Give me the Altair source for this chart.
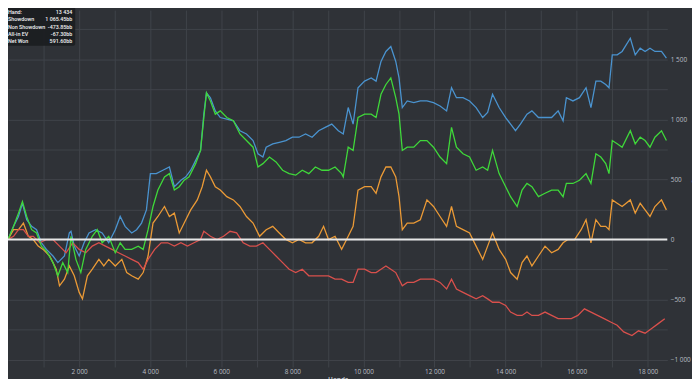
import altair as alt
import pandas as pd

# ---------------- data ----------------
showdown_hands = [0, 157, 295, 406, 526, 665, 803, 941, 1080, 1265, 1403, 1588, 1726, 1772, 1864, 2003, 2141,
                  2280, 2464, 2649, 2834, 3018, 3157, 3295, 3480, 3618, 3757, 3895, 4006, 4172, 4357, 4541, 4680,
                  4864, 5003, 5141, 5280, 5418, 5510, 5584, 5695, 5833, 5972, 6156, 6341, 6526, 6710, 6895, 7033,
                  7172, 7264, 7449, 7633, 7818, 8002, 8187, 8372, 8556, 8741, 8925, 9110, 9295, 9433, 9572, 9710,
                  9848, 10033, 10218, 10356, 10495, 10633, 10771, 10910, 11002, 11094, 11233, 11418, 11602, 11787,
                  11972, 12156, 12341, 12479, 12618, 12802, 12987, 13171, 13356, 13495, 13633, 13818, 14002, 14141,
                  14279, 14418, 14602, 14741, 14925, 15110, 15295, 15479, 15618, 15710, 15895, 16079, 16264, 16402,
                  16541, 16679, 16818, 16910, 17002, 17140, 17279, 17510, 17648, 17787, 17925, 18063, 18202, 18387,
                  18525]
showdown_bb = [0, 110, 192, 302, 165, 110, 82, -27, -82, -137, -192, -137, 55, 69, -55, -137, -27,
               55, 82, 55, -27, 82, 192, 110, 55, 82, 137, 247, 549, 549, 577, 604, 440,
               494, 522, 577, 659, 742, 1044, 1222, 1181, 1071, 1016, 1003, 989, 906, 879, 824, 714,
               687, 769, 797, 810, 824, 852, 852, 879, 852, 906, 934, 961, 906, 879, 1099, 961,
               1264, 1319, 1346, 1319, 1483, 1566, 1607, 1483, 1346, 1099, 1154, 1140, 1154, 1154,
               1140, 1112, 1071, 1264, 1181, 1181, 1154, 1099, 1016, 1058, 1209, 1099, 1016, 961,
               906, 961, 1044, 1071, 1016, 1016, 1016, 1071, 989, 1181, 1154, 1181, 1264, 1099,
               1319, 1319, 1291, 1264, 1538, 1538, 1566, 1676, 1538, 1593, 1566, 1593, 1566, 1566,
               1511]

netwon_hands = [0, 157, 295, 406, 526, 665, 803, 941, 1080, 1265, 1403, 1541, 1680, 1772, 1911, 2049, 2188,
                2372, 2511, 2649, 2834, 3018, 3157, 3295, 3480, 3664, 3803, 3941, 4080, 4218, 4403, 4541, 4680,
                4818, 4957, 5095, 5280, 5418, 5510, 5584, 5695, 5833, 5972, 6156, 6341, 6526, 6710, 6895, 7033,
                7172, 7356, 7541, 7726, 7910, 8095, 8279, 8464, 8648, 8833, 9018, 9202, 9387, 9433, 9572, 9710,
                9848, 10033, 10218, 10356, 10495, 10633, 10771, 10910, 11002, 11094, 11233, 11418, 11602, 11787,
                11972, 12156, 12341, 12479, 12618, 12802, 12987, 13171, 13356, 13495, 13633, 13818, 14002, 14141,
                14326, 14464, 14602, 14741, 14925, 15110, 15295, 15479, 15618, 15710, 15895, 16079, 16264, 16402,
                16541, 16679, 16818, 16910, 17002, 17140, 17279, 17510, 17648, 17787, 17925, 18063, 18202, 18387,
                18525]
netwon_bb = [0, 110, 220, 316, 192, 82, 55, -55, -96, -192, -302, -192, -275, 27, -165, -275, -82,
             27, 82, -27, 27, -110, -27, -82, -82, -55, -82, 82, 275, 412, 522, 549, 412,
             440, 494, 522, 632, 742, 1016, 1222, 1154, 1044, 1071, 1016, 989, 879, 824, 769, 604,
             632, 687, 646, 577, 549, 536, 577, 549, 604, 577, 577, 604, 549, 522, 769, 742,
             1016, 1044, 1044, 1016, 1209, 1291, 1346, 1181, 1044, 742, 769, 769, 824, 824,
             769, 687, 632, 934, 769, 714, 687, 577, 604, 577, 742, 549, 440, 357,
             275, 412, 467, 440, 357, 385, 412, 412, 357, 467, 467, 494, 549, 467,
             714, 687, 632, 549, 824, 797, 769, 906, 797, 852, 824, 769, 852, 906,
             824]

allin_hands = [0, 157, 295, 434, 572, 711, 849, 988, 1172, 1357, 1449, 1588, 1726, 1864, 2003, 2095, 2234,
               2372, 2557, 2695, 2834, 3018, 3203, 3341, 3480, 3664, 3803, 3941, 4080, 4218, 4403, 4541, 4680,
               4818, 5003, 5141, 5326, 5464, 5584, 5695, 5833, 5972, 6156, 6341, 6526, 6710, 6895, 7079, 7264,
               7449, 7633, 7818, 8002, 8187, 8372, 8556, 8741, 8879, 9018, 9202, 9387, 9572, 9710, 9848, 10033,
               10218, 10356, 10495, 10633, 10771, 10910, 11002, 11094, 11233, 11418, 11602, 11787, 11972, 12156,
               12341, 12479, 12618, 12802, 12987, 13171, 13356, 13495, 13633, 13818, 14002, 14141, 14326, 14464,
               14602, 14741, 14925, 15110, 15295, 15479, 15618, 15756, 15941, 16126, 16264, 16402, 16541, 16679,
               16818, 16910, 17002, 17140, 17279, 17510, 17648, 17787, 17925, 18063, 18202, 18387, 18525]
allin_bb = [0, 82, 82, 137, 27, 0, -55, -82, -137, -247, -385, -330, -220, -302, -440, -494, -302,
            -247, -165, -220, -165, -220, -165, -275, -302, -330, -275, -137, 137, 192, 275, 192, 220,
            55, 165, 247, 330, 440, 577, 522, 440, 412, 357, 330, 275, 192, 137, 27, 82,
            110, 55, 0, -27, 0, -27, -27, 27, 110, 0, 27, -82, 27, 110, 412, 440,
            440, 385, 522, 604, 604, 522, 357, 82, 137, 137, 165, 330, 275, 192,
            110, 275, 110, 82, 55, -55, -165, -55, 55, -82, -165, -275, -330, -192,
            -137, -220, -137, -55, -110, -82, -27, 0, 0, 82, 165, -27, 165, 110,
            110, 82, 330, 302, 275, 330, 220, 302, 247, 192, 275, 330, 247]

nonsd_hands = [0, 157, 295, 434, 572, 711, 895, 1080, 1265, 1449, 1634, 1818, 2003, 2188, 2372, 2557, 2741,
               2926, 3111, 3295, 3480, 3664, 3803, 3941, 4126, 4310, 4495, 4680, 4864, 5049, 5233, 5418, 5510,
               5695, 5880, 6064, 6249, 6433, 6618, 6803, 6987, 7172, 7356, 7541, 7726, 7910, 8095, 8279, 8464,
               8648, 8833, 9018, 9202, 9387, 9572, 9710, 9848, 10033, 10218, 10356, 10495, 10633, 10771, 10910,
               11094, 11233, 11418, 11602, 11787, 11972, 12156, 12341, 12479, 12618, 12802, 12987, 13171, 13356,
               13495, 13633, 13818, 14002, 14141, 14326, 14464, 14602, 14741, 14925, 15110, 15295, 15479, 15664,
               15849, 16033, 16218, 16402, 16587, 16772, 16956, 17140, 17325, 17556, 17741, 17925, 18110, 18295,
               18479]
nonsd_bb = [0, 27, 82, 82, 27, 27, -27, 0, 0, -55, -110, -27, -82, -110, -55, -27, -55,
            -82, -110, -137, -165, -192, -247, -165, -82, -27, -27, -55, -27, -55, -27, 0, 69,
            27, 0, 27, 69, 55, -27, -55, -55, -27, -82, -137, -192, -247, -275, -247, -302,
            -302, -302, -302, -330, -330, -357, -357, -247, -247, -275, -275, -247, -220, -247, -275,
            -385, -357, -357, -330, -330, -330, -357, -412, -330, -412, -440, -467, -494, -467,
            -494, -522, -522, -549, -604, -632, -632, -604, -632, -632, -604, -632, -659, -659,
            -659, -632, -577, -604, -632, -659, -687, -714, -769, -800, -760, -780, -740, -700,
            -660]

x_ticks = [1000 * i for i in range(1, 19)]
y_ticks = [250 * i for i in range(-4, 8)]

box_labels = ["Hand:", "Showdown", "Non Showdown", "All-in EV", "Net Won"]
box_values = ["13 434", "1 065.45bb", "-473.85bb", "-67.30bb", "591.60bb"]

# ---------------- chart ----------------
BG = "#2f3237"
GRID = "#40444a"
LABEL = "#b9bdc3"

x_scale = alt.Scale(domain=[0, 18550], nice=False, zero=False)
y_scale = alt.Scale(domain=[-1061, 1910], nice=False, zero=False)

x_axis = alt.Axis(
    values=x_ticks, ticks=False, domain=False, grid=True, gridColor=GRID, gridWidth=1,
    labelExpr="datum.value % 2000 == 0 ? replace(format(datum.value, ','), ',', ' ') : ''",
    labelColor=LABEL, labelFontSize=6.5, labelFont="Open Sans", labelPadding=2,
    title="Hands", titleColor=LABEL, titleFontSize=6.5, titleFont="Open Sans", titlePadding=1,
    labelOverlap=False, labelFlush=False,
)
y_axis = alt.Axis(
    orient="right", values=y_ticks, ticks=False, domain=False, grid=True, gridColor=GRID, gridWidth=1,
    labelExpr="datum.value % 500 == 0 ? replace(format(datum.value, ','), ',', ' ') : ''",
    labelColor=LABEL, labelFontSize=6.5, labelFont="Open Sans", labelPadding=3, labelAlign="left",
    title="Big Blinds", titleColor=LABEL, titleFontSize=6.5, titleFont="Open Sans", titlePadding=2,
    labelOverlap=False, labelFlush=False,
)

X = alt.X("hands:Q", scale=x_scale, axis=x_axis)
Y = alt.Y("bb:Q", scale=y_scale, axis=y_axis)


def series(h, v, color):
    return alt.Chart(pd.DataFrame({"hands": h, "bb": v})).mark_line(
        color=color, strokeWidth=1.3, clip=True
    ).encode(x=X, y=Y)


zero = alt.Chart(pd.DataFrame({"bb": [0]})).mark_rule(color="#e6e6e6", strokeWidth=2).encode(y=Y)

blue = series(showdown_hands, showdown_bb, "#4a93cf")
orange = series(allin_hands, allin_bb, "#eb9a36")
red = series(nonsd_hands, nonsd_bb, "#d9504c")
green = series(netwon_hands, netwon_bb, "#3fd83a")

box = alt.Chart(pd.DataFrame({"k": [0]})).mark_rect(
    fill="#1b1d21", opacity=0.92, cornerRadius=2
).encode(x=alt.value(-3), x2=alt.value(68), y=alt.value(-3), y2=alt.value(36))

text_df = pd.DataFrame({"labels": ["\n".join(box_labels)], "values": ["\n".join(box_values)]})
text_style = dict(baseline="top", color="#f2f2f2", fontSize=5.4, font="Roboto", fontWeight=500,
                  lineBreak="\n", lineHeight=7.4)

box_left = alt.Chart(text_df).mark_text(align="left", **text_style).encode(
    x=alt.value(0), y=alt.value(0), text="labels:N"
)
box_right = alt.Chart(text_df).mark_text(align="right", **text_style).encode(
    x=alt.value(65), y=alt.value(0), text="values:N"
)

chart = alt.layer(blue, orange, red, green, zero, box, box_left, box_right).properties(
    width=667,
    height=361,
    background=BG,
    autosize=alt.AutoSizeParams(type="none"),
    padding={"left": 0, "top": 0, "right": 25, "bottom": 10},
).configure_view(stroke=None)

chart.save("out.html", embed_options={"renderer": "svg", "actions": False})
